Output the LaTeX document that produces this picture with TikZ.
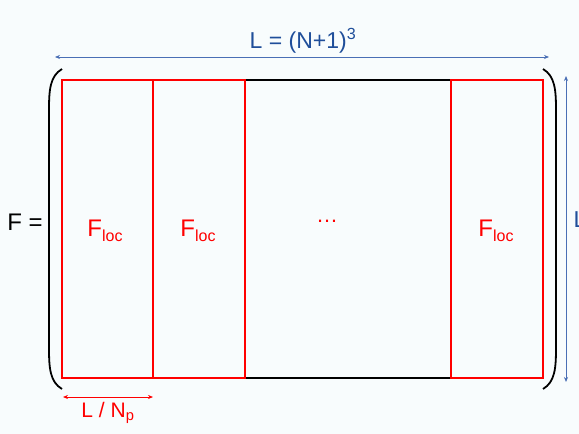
\documentclass[tikz,border=0pt]{standalone}
\usepackage{fontspec}
\setmainfont{Liberation Sans}
\usetikzlibrary{arrows.meta}
\definecolor{bgc}{HTML}{F8FCFD}
\definecolor{dblue}{HTML}{1F4E9A}
\definecolor{lblue}{HTML}{4A6FB5}
\definecolor{myred}{HTML}{FF0000}
\tikzset{
  box/.style={draw=myred, line width=1.2pt},
  dim/.style={{Stealth[length=5pt,width=4pt]}-{Stealth[length=5pt,width=4pt]}, line width=0.7pt},
  paren/.style={draw=black, line width=1.8pt},
  lab/.style={inner sep=0pt, font=\fontsize{23}{23}\selectfont},
  flab/.style={inner sep=0pt, text=myred, font=\fontsize{24}{24}\selectfont},
}
\newcommand{\Floc}{F\raisebox{-0.35ex}{\fontsize{16}{16}\selectfont loc}}
\begin{document}
\begin{tikzpicture}[x=1pt,y=-1pt]
\clip (0,0) rectangle (579,434);
\fill[bgc] (0,0) rectangle (579,434);
% boxes
\coordinate (a0) at (62,80); \coordinate (b0) at (62,378);
\coordinate (a1) at (153,80); \coordinate (b1) at (153,378);
\coordinate (a2) at (245,80); \coordinate (b2) at (245,378);
\coordinate (a3) at (451,80); \coordinate (b3) at (451,378);
\coordinate (a4) at (543,80); \coordinate (b4) at (543,378);
\draw[black, line width=1.2pt] (a2) -- (a3) (b2) -- (b3);
\draw[box] (a0) rectangle (b1);
\draw[box] (a1) rectangle (b2);
\draw[box] (a3) rectangle (b4);
% parentheses
\draw[paren] (62,69) .. controls (50,76) and (49,90) .. (49,110) -- (49,348) .. controls (49,368) and (50,382) .. (62,389);
\draw[paren] (543,69) .. controls (555,76) and (556,90) .. (556,110) -- (556,348) .. controls (556,368) and (555,382) .. (543,389);
% labels
\node[flab] (f1) at (105,231) {\Floc};
\node[flab] (f2) at (198,231) {\Floc};
\node[flab] (f3) at (496,231) {\Floc};
\node[flab, font=\fontsize{22}{22}\selectfont] (dots) at (327,221) {…};
\node[lab, font=\fontsize{24}{24}\selectfont] (feq) at (25,222) {F =};
% top dimension
\coordinate (t1) at (55,57); \coordinate (t2) at (549,57);
\draw[dim, lblue] (t1) -- (t2);
\node[lab, text=dblue] (tl) at (303,41) {L = (N+1)\textsuperscript{3}};
% right dimension
\coordinate (r1) at (566,76); \coordinate (r2) at (566,382);
\draw[dim, lblue] (r1) -- (r2);
\node[lab, text=dblue, anchor=base west] (rl) at (573.5,227) {L};
% bottom dimension
\coordinate (d1) at (63,397); \coordinate (d2) at (153,397);
\draw[dim, myred] (d1) -- (d2);
\node[lab, text=myred, font=\fontsize{21}{21}\selectfont] (bl) at (108,413) {L / N\textsubscript{p}};
\end{tikzpicture}
\end{document}
